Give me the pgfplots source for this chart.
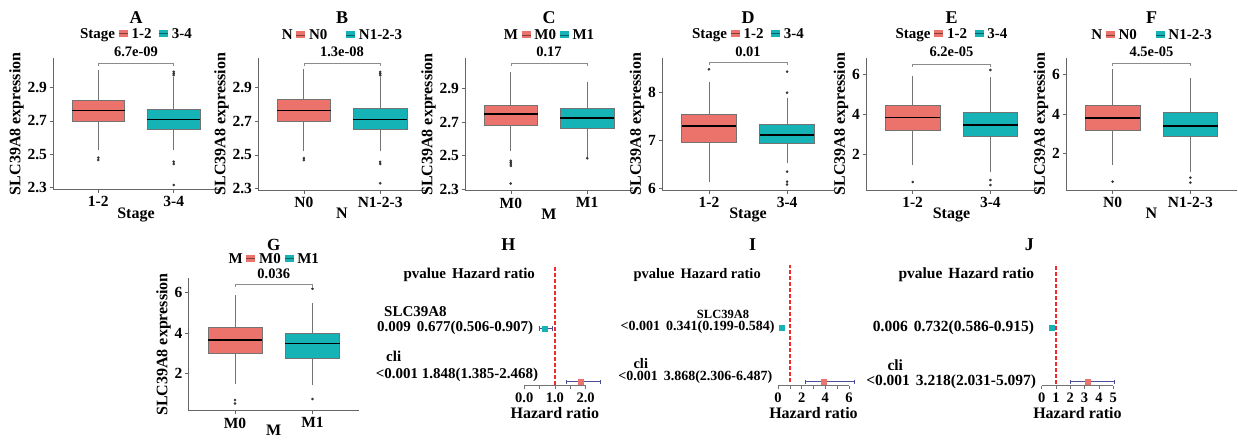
\documentclass[border=0pt]{standalone}
\usepackage{fontspec}
\setmainfont{Liberation Serif}
\usepackage{pgfplots}
\pgfplotsset{compat=1.18}

\definecolor{boxred}{HTML}{EB736B}
\definecolor{boxteal}{HTML}{16B3B6}
\definecolor{ciblue}{HTML}{4A4F97}
\definecolor{refred}{HTML}{EE2A2A}

\newcommand\fs[1]{\fontsize{#1}{#1}\selectfont\bfseries}
% legend key: small filled box with a median stroke
\newcommand\key[1]{\makebox[0pt][l]{\textcolor{#1}{\rule[1.5pt]{9pt}{7pt}}}\textcolor{#1!55!black}{\rule[4.6pt]{9pt}{0.8pt}}}
% one box: colour, left, centre, right, lower whisker, q1, median, q3, upper whisker
\newcommand\bx[9]{%
  \addplot[whisk] coordinates {(#3,#5) (#3,#6)};
  \addplot[whisk] coordinates {(#3,#8) (#3,#9)};
  \addplot[fill=#1, draw=black!55, line width=0.5pt] coordinates {(#2,#6) (#4,#6) (#4,#8) (#2,#8)} -- cycle;
  \addplot[black, line width=1.5pt] coordinates {(#2,#7) (#4,#7)};
}

\pgfplotsset{
  boxpanel/.style={
    scale only axis, clip=false, anchor=south west,
    axis x line*=bottom, axis y line*=left,
    axis line style={black!60, line width=0.6pt},
    tick style={black!60, line width=0.6pt},
    tick align=outside, major tick length=3.5pt,
    xmin=0.4, xmax=2.6, xtick={1,2},
    /pgf/number format/assume math mode=true,
    tick label style={font=\fs{15.5}},
    yticklabel style={/pgf/number format/fixed, /pgf/number format/precision=1, xshift=1pt},
    label style={font=\fs{16}},
    ylabel={SLC39A8 expression}, ylabel shift=-3pt,
    xlabel style={yshift=6pt},
  },
  whisk/.style={black!55, line width=0.8pt},
  outl/.style={only marks, mark=*, mark size=1.1pt, black!80},
  brk/.style={black!45, line width=0.6pt},
  forest/.style={
    scale only axis, clip=false, anchor=south west,
    axis x line*=bottom, axis y line=none, ytick=\empty,
    height=121pt, ymin=0, ymax=121,
    axis line style={black!55, line width=0.6pt},
    tick style={black!55, line width=0.6pt},
    tick align=outside, major tick length=3.5pt,
    /pgf/number format/assume math mode=true,
    tick label style={font=\fs{14.5}},
    xlabel={Hazard ratio}, label style={font=\fs{16}},
    xlabel style={yshift=2pt},
  },
  refline/.style={refred, line width=1.4pt, dash pattern=on 4pt off 2pt},
  ci/.style={ciblue, line width=0.9pt, mark=|, mark size=2.2pt},
  pt/.style={only marks, mark=square*, mark size=2.5pt},
}
\tikzset{
  ttl/.style={font=\fs{18}, inner sep=1pt, yshift=40.8pt},
  lgd/.style={font=\fs{15}, inner sep=1pt, yshift=23.3pt},
  pv/.style={font=\fs{14.5}, inner sep=1pt, yshift=6.3pt},
  ttlG/.style={font=\fs{17}, inner sep=1pt, yshift=33.5pt},
  lgdG/.style={font=\fs{15}, inner sep=1pt, yshift=19.5pt},
  pvG/.style={font=\fs{14.5}, inner sep=1pt, yshift=5pt},
}

\begin{document}
\begin{tikzpicture}
\path[use as bounding box] (0pt,0pt) rectangle (1238pt,-440pt);

% ---------------- A ----------------
\begin{axis}[boxpanel, at={(53pt,-189.3pt)}, width=166pt, height=131pt,
  ymin=2.29, ymax=3.076, ytick={2.3,2.5,2.7,2.9},
  xticklabels={1-2,3-4}, xlabel={Stage}]
\bx{boxred}{0.65}{1}{1.35}{2.526}{2.696}{2.762}{2.826}{3.006}
\bx{boxteal}{1.65}{2}{2.35}{2.526}{2.65}{2.708}{2.77}{2.965}
\addplot[outl] coordinates {(1,2.48) (1,2.466) (2,2.975) (2,2.985) (2,2.995) (2,2.456) (2,2.442) (2,2.316)};
\addplot[brk] coordinates {(1,3.028) (1,3.046) (2,3.046) (2,3.028)};
\node[ttl] at (axis description cs:0.5,1) {A};
\node[lgd] at (axis description cs:0.5,1) {Stage \key{boxred} 1-2 \ \key{boxteal} 3-4};
\node[pv] at (axis description cs:0.5,1) {6.7e-09};
\end{axis}

% ---------------- B ----------------
\begin{axis}[boxpanel, at={(258pt,-190pt)}, width=168pt, height=131.7pt,
  ymin=2.29, ymax=3.076, ytick={2.3,2.5,2.7,2.9},
  xticklabels={N0,N1-2-3}, xlabel={N}]
\bx{boxred}{0.65}{1}{1.35}{2.52}{2.70}{2.765}{2.83}{3.01}
\bx{boxteal}{1.65}{2}{2.35}{2.52}{2.655}{2.71}{2.775}{2.965}
\addplot[outl] coordinates {(1,2.48) (1,2.468) (2,2.975) (2,2.985) (2,2.995) (2,2.458) (2,2.445) (2,2.33)};
\addplot[brk] coordinates {(1,3.028) (1,3.046) (2,3.046) (2,3.028)};
\node[ttl] at (axis description cs:0.5,1) {B};
\node[lgd] at (axis description cs:0.5,1) {N \key{boxred} N0 \quad \key{boxteal} N1-2-3};
\node[pv] at (axis description cs:0.5,1) {1.3e-08};
\end{axis}

% ---------------- C ----------------
\begin{axis}[boxpanel, at={(465pt,-190.7pt)}, width=168pt, height=132.4pt,
  ymin=2.292, ymax=3.08, ytick={2.3,2.5,2.7,2.9},
  xticklabels={M0,M1}, xlabel={M}]
\bx{boxred}{0.65}{1}{1.35}{2.53}{2.68}{2.75}{2.80}{3.0}
\bx{boxteal}{1.65}{2}{2.35}{2.49}{2.665}{2.725}{2.78}{2.94}
\addplot[outl] coordinates {(1,2.47) (1,2.46) (1,2.45) (1,2.44) (1,2.335) (2,2.485)};
\addplot[brk] coordinates {(1,3.035) (1,3.053) (2,3.053) (2,3.035)};
\node[ttl] at (axis description cs:0.5,1) {C};
\node[lgd] at (axis description cs:0.5,1) {M \key{boxred} M0 \key{boxteal} M1};
\node[pv] at (axis description cs:0.5,1) {0.17};
\end{axis}

% ---------------- D ----------------
\begin{axis}[boxpanel, at={(662pt,-190pt)}, width=172pt, height=131.7pt,
  ymin=5.965, ymax=8.72, ytick={6,7,8},
  yticklabel style={/pgf/number format/precision=0},
  xticklabels={1-2,3-4}, xlabel={Stage}]
\bx{boxred}{0.65}{1}{1.35}{6.14}{6.96}{7.30}{7.55}{8.23}
\bx{boxteal}{1.65}{2}{2.35}{6.52}{6.94}{7.12}{7.34}{7.90}
\addplot[outl] coordinates {(1,8.49) (2,8.0) (2,8.44) (2,6.35) (2,6.14) (2,6.08)};
\addplot[brk] coordinates {(1,8.57) (1,8.63) (2,8.63) (2,8.57)};
\node[ttl] at (axis description cs:0.5,1) {D};
\node[lgd] at (axis description cs:0.5,1) {Stage \key{boxred} 1-2 \ \key{boxteal} 3-4};
\node[pv] at (axis description cs:0.5,1) {0.01};
\end{axis}

% ---------------- E ----------------
\begin{axis}[boxpanel, at={(866pt,-190pt)}, width=171pt, height=131.7pt,
  ymin=0.2, ymax=6.785, ytick={2,4,6},
  yticklabel style={/pgf/number format/precision=0},
  xticklabels={1-2,3-4}, xlabel={Stage}]
\bx{boxred}{0.65}{1}{1.35}{1.45}{3.2}{3.83}{4.43}{5.9}
\bx{boxteal}{1.65}{2}{2.35}{1.1}{2.87}{3.45}{4.07}{5.83}
\addplot[outl] coordinates {(1,0.6) (2,6.2) (2,0.7) (2,0.45)};
\addplot[brk] coordinates {(1,6.35) (1,6.5) (2,6.5) (2,6.35)};
\node[ttl] at (axis description cs:0.5,1) {E};
\node[lgd] at (axis description cs:0.5,1) {Stage \key{boxred} 1-2 \ \key{boxteal} 3-4};
\node[pv] at (axis description cs:0.5,1) {6.2e-05};
\end{axis}

% ---------------- F ----------------
\begin{axis}[boxpanel, at={(1066pt,-190pt)}, width=171pt, height=131.7pt,
  ymin=0.18, ymax=6.8, ytick={2,4,6},
  yticklabel style={/pgf/number format/precision=0},
  xticklabels={N0,N1-2-3}, xlabel={N}]
\bx{boxred}{0.65}{1}{1.35}{1.45}{3.2}{3.8}{4.45}{6.25}
\bx{boxteal}{1.65}{2}{2.35}{1.1}{2.9}{3.4}{4.07}{5.8}
\addplot[outl] coordinates {(1,0.6) (2,0.8) (2,0.55)};
\addplot[brk] coordinates {(1,6.4) (1,6.55) (2,6.55) (2,6.4)};
\node[ttl] at (axis description cs:0.5,1) {F};
\node[lgd] at (axis description cs:0.5,1) {N \key{boxred} N0 \quad \key{boxteal} N1-2-3};
\node[pv] at (axis description cs:0.5,1) {4.5e-05};
\end{axis}

% ---------------- G ----------------
\begin{axis}[boxpanel, at={(188.5pt,-410.7pt)}, width=170.5pt, height=132.4pt,
  ymin=0.144, ymax=6.715, ytick={2,4,6},
  yticklabel style={/pgf/number format/precision=0},
  xticklabels={M0,M1}, xlabel={M}, xlabel style={yshift=4pt}]
\bx{boxred}{0.65}{1}{1.35}{1.47}{3.0}{3.65}{4.3}{5.9}
\bx{boxteal}{1.65}{2}{2.35}{1.42}{2.73}{3.47}{4.0}{5.5}
\addplot[outl] coordinates {(1,0.67) (1,0.5) (2,6.2) (2,0.72)};
\addplot[brk] coordinates {(1,6.28) (1,6.43) (2,6.43) (2,6.28)};
\node[ttlG] at (axis description cs:0.5,1) {G};
\node[lgdG] at (axis description cs:0.5,1) {M \key{boxred} M0 \key{boxteal} M1};
\node[pvG] at (axis description cs:0.5,1) {0.036};
\end{axis}

% ---------------- H ----------------
\begin{axis}[forest, at={(524.2pt,-385.7pt)}, width=61.4pt,
  xmin=0, xmax=2, xtick={0,0.5,1,1.5,2}, xticklabels={0.0,,1.0,,2.0}]
\addplot[refline] coordinates {(1,1) (1,121)};
\addplot[ci] coordinates {(0.506,57.4) (0.907,57.4)};
\addplot[pt, boxteal] coordinates {(0.677,57.4)};
\addplot[ci] coordinates {(1.385,4) (2.468,4)};
\addplot[pt, boxred] coordinates {(1.848,4)};
\end{axis}
\node[font=\fs{18}] at (508.3pt,-245pt) {H};
\node[font=\fs{15}, anchor=west] at (400pt,-275pt) {pvalue\hspace{6pt}Hazard ratio};
\node[font=\fs{15}, anchor=west] at (380.7pt,-311.7pt) {SLC39A8};
\node[font=\fs{15}, anchor=east] at (536.7pt,-328.3pt) {0.009\hspace{6pt}0.677(0.506-0.907)};
\node[font=\fs{15}, anchor=west] at (382.7pt,-356.7pt) {cli};
\node[font=\fs{15}, anchor=east] at (541.7pt,-375pt) {<0.001 1.848(1.385-2.468)};

% ---------------- I ----------------
\begin{axis}[forest, at={(778pt,-385.7pt)}, width=71pt,
  xmin=0, xmax=6, xtick={0,1,2,3,4,5,6}, xticklabels={0,,2,,4,,6}]
\addplot[refline] coordinates {(1,4) (1,121)};
\addplot[ci] coordinates {(0.199,58.4) (0.584,58.4)};
\addplot[pt, boxteal] coordinates {(0.341,58.4)};
\addplot[ci] coordinates {(2.306,4) (6.487,4)};
\addplot[pt, boxred] coordinates {(3.868,4)};
\end{axis}
\node[font=\fs{18}] at (752.6pt,-245pt) {I};
\node[font=\fs{14.5}, anchor=west] at (630pt,-275pt) {pvalue\hspace{6pt}Hazard ratio};
\node[font=\fs{12.5}, inner sep=1pt] at (723pt,-314pt) {SLC39A8};
\node[font=\fs{14}, anchor=east, inner sep=1pt] at (775.8pt,-327.3pt) {<0.001\hspace{6pt}0.341(0.199-0.584)};
\node[font=\fs{14.5}, anchor=west] at (630pt,-363.3pt) {cli};
\node[font=\fs{14}, anchor=east] at (775.8pt,-376.7pt) {<0.001\hspace{6pt}3.868(2.306-6.487)};

% ---------------- J ----------------
\begin{axis}[forest, at={(1041.7pt,-385.7pt)}, width=71.5pt,
  xmin=0, xmax=5, xtick={0,1,2,3,4,5}]
\addplot[refline] coordinates {(1,2) (1,122)};
\addplot[ci] coordinates {(0.586,58.4) (0.915,58.4)};
\addplot[pt, boxteal] coordinates {(0.732,58.4)};
\addplot[ci] coordinates {(2.031,4) (5.097,4)};
\addplot[pt, boxred] coordinates {(3.218,4)};
\end{axis}
\node[font=\fs{18}] at (1029.4pt,-245pt) {J};
\node[font=\fs{15.5}, anchor=west] at (895pt,-275pt) {pvalue\hspace{6pt}Hazard ratio};
\node[font=\fs{15.5}, anchor=east] at (1037.5pt,-327.3pt) {0.006\hspace{6pt}0.732(0.586-0.915)};
\node[font=\fs{15.5}, anchor=west] at (884pt,-365pt) {cli};
\node[font=\fs{15.5}, anchor=east] at (1039.6pt,-381.7pt) {<0.001\hspace{6pt}3.218(2.031-5.097)};
\end{tikzpicture}
\end{document}
